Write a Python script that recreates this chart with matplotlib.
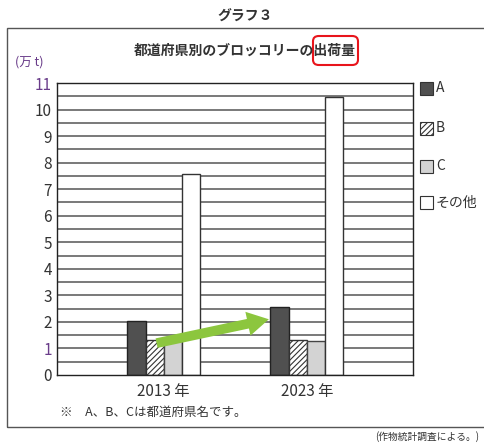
import matplotlib
matplotlib.use("Agg")
import matplotlib.pyplot as plt
import numpy as np
from matplotlib.patches import Rectangle, FancyBboxPatch

plt.rcParams['font.family'] = ['Noto Sans CJK JP', 'DejaVu Sans']
plt.rcParams['hatch.color'] = '#555555'
plt.rcParams['hatch.linewidth'] = 0.8

years = ["2013 年", "2023 年"]
series = ["A", "B", "C", "その他"]
vals_A = [2.05, 2.55]
vals_B = [1.32, 1.33]
vals_C = [1.30, 1.28]
vals_other = [7.58, 10.48]
yticks = list(range(0, 12))
ytick_labels = [str(v) for v in yticks]

fig = plt.figure(figsize=(4.84, 4.43), dpi=100)
ax = fig.add_axes([0.1188, 0.1535, 0.7345, 0.659])

x = np.arange(len(years))
w = 0.127
styles = [
    dict(color='#505050', edgecolor='#222222'),
    dict(color='white', edgecolor='#333333', hatch='//////'),
    dict(color='#d3d3d3', edgecolor='#444444'),
    dict(color='white', edgecolor='#333333'),
]
all_vals = [vals_A, vals_B, vals_C, vals_other]
offsets = [-1.5, -0.5, 0.5, 1.5]
for vals, st, off in zip(all_vals, styles, offsets):
    ax.bar(x + off * w, vals, w, linewidth=1.0, zorder=3, **st)

# gridlines every 0.5
for g in np.arange(0.5, 11.0, 0.5):
    ax.axhline(g, color='#555555', lw=1.1, zorder=1)

ax.set_xlim(-0.743, 1.743)
ax.set_ylim(0, 11)
ax.set_yticks(yticks)
ax.set_yticklabels(ytick_labels, fontsize=11)
for lbl, v in zip(ax.get_yticklabels(), yticks):
    if v in (1, 11):
        lbl.set_color('#6a3d8a')
    else:
        lbl.set_color('#333333')
ax.set_xticks(x)
ax.set_xticklabels(years, fontsize=11, color='#333333')
ax.tick_params(length=0, pad=4)
ax.tick_params(axis='x', pad=6)
for s in ax.spines.values():
    s.set_color('#222222')
    s.set_linewidth(1.0)
    s.set_zorder(4)

# green arrow
ax.annotate('', xy=(0.735, 2.1), xytext=(-0.05, 1.2),
            arrowprops=dict(arrowstyle='simple,head_width=1.25,head_length=1.1,tail_width=0.5',
                            mutation_scale=14, color='#8cc63e', lw=0,
                            shrinkA=0, shrinkB=0),
            zorder=5)

# outer frame
fig.add_artist(Rectangle((7/484, 1 - 427/443), 480/484, (427 - 28)/443,
                         transform=fig.transFigure, fill=False,
                         edgecolor='#555555', lw=1.0))

fig.text(245/484, 1 - 17/443, "グラフ３", ha='center', va='center',
         fontsize=10, fontweight='bold', color='#333333')
fig.text(245/484, 1 - 51/443, "都道府県別のブロッコリーの出荷量", ha='center',
         va='center', fontsize=10, fontweight='bold', color='#333333')
fig.add_artist(FancyBboxPatch((313/484, 1 - 65/443), 45/484, 29/443,
                              boxstyle="round,pad=0,rounding_size=0.012",
                              transform=fig.transFigure, fill=False,
                              edgecolor='#e8141b', lw=1.5))
fig.text(15/484, 1 - 62/443, "(万 t)", ha='left', va='center', fontsize=9,
         color='#6a3d8a')

# legend
leg_y = [88, 128, 166, 203]
for st, name, yy in zip(styles, series, leg_y):
    fig.add_artist(Rectangle((420/484, 1 - (yy + 6.5)/443), 13/484, 13/443,
                             transform=fig.transFigure, facecolor=st['color'],
                             edgecolor='#333333', lw=0.8,
                             hatch=st.get('hatch', None)))
    fig.text(436/484, 1 - yy/443, name, ha='left', va='center', fontsize=10,
             color='#333333')

fig.text(60/484, 1 - 412/443, "※　A、B、Cは都道府県名です。", ha='left',
         va='center', fontsize=9, color='#333333')
fig.text(375/484, 1 - 437/443, "(作物統計調査による。)", ha='left',
         va='center', fontsize=7, color='#333333')

fig.savefig("out.png", dpi=100)
